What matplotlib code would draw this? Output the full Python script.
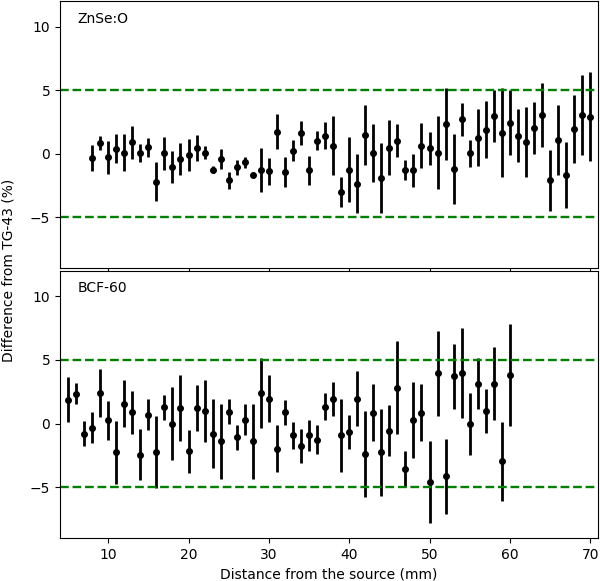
import numpy as np
import matplotlib
matplotlib.use("Agg")
import matplotlib.pyplot as plt

# ZnSe:O  (distance in mm, difference in %, uncertainty in %)
znse_x = list(range(8, 71))
znse_y = [-0.34, 0.83, -0.26, 0.39, 0.10, 0.91, 0.05, 0.52, -2.19, 0.05,
          -1.04, -0.41, -0.08, 0.44, 0.10, -1.25, -0.41, -2.08, -1.07, -0.68,
          -1.64, -1.25, -1.38, 1.74, -1.43, 0.23, 1.61, -1.30, 1.04, 1.43,
          0.65, -3.02, -1.25, -2.34, 1.48, 0.05, -1.90, 0.49, 1.04, -1.30,
          -1.30, 0.63, 0.44, 0.10, 2.32, -1.20, 2.71, 0.05, 1.28, 1.88,
          2.97, 1.67, 2.45, 1.41, 0.91, 2.00, 3.05, -2.08, 1.09, -1.69,
          1.95, 3.05, 2.92]
znse_err = [1.00, 0.55, 1.30, 1.13, 1.45, 1.30, 0.70, 0.75, 1.56, 1.30,
            1.24, 1.24, 1.26, 1.00, 0.53, 0.30, 0.80, 0.65, 0.60, 0.45,
            0.15, 1.73, 1.04, 1.35, 1.21, 0.83, 0.94, 1.15, 0.74, 1.08,
            2.30, 1.20, 2.56, 2.33, 2.37, 2.29, 2.73, 2.19, 1.29, 0.78,
            1.30, 1.76, 1.30, 2.84, 2.84, 2.73, 1.28, 1.07, 2.25, 2.24,
            2.08, 3.49, 2.58, 2.08, 2.77, 2.04, 2.51, 2.41, 2.72, 2.59,
            2.67, 3.15, 3.49]

# BCF-60
bcf_x = list(range(5, 61))
bcf_y = [1.89, 2.34, -0.79, -0.34, 2.41, 0.24, -2.26, 1.57, 0.89, -2.44,
         0.71, -2.23, 1.28, 0.00, 1.23, -2.18, 1.23, 0.97, -0.79, -1.39,
         0.92, -1.08, 0.31, -1.39, 2.41, 1.94, -1.97, 0.89, -0.94, -1.78,
         -0.94, -1.26, 1.31, 1.94, -0.94, -0.68, 1.94, -2.39, 0.84, -2.26,
         -0.55, 2.81, -3.57, 0.31, 0.84, -4.59, 3.94, -4.15, 3.73, 3.94,
         -0.03, 3.12, 0.97, 3.12, -2.97, 3.83]
bcf_err = [1.73, 0.81, 0.98, 1.22, 1.89, 1.55, 2.47, 1.85, 1.68, 2.00,
           1.25, 2.80, 1.00, 2.89, 2.60, 1.68, 1.80, 2.45, 2.69, 2.94,
           0.98, 0.98, 1.20, 2.95, 2.76, 1.84, 1.84, 1.00, 1.08, 1.34,
           1.25, 1.15, 1.06, 1.34, 2.86, 1.35, 2.17, 3.35, 2.23, 3.44,
           2.00, 3.65, 1.44, 2.99, 2.23, 3.22, 3.32, 2.93, 2.56, 3.54,
           2.43, 2.00, 1.75, 2.86, 3.10, 4.03]

fig, (ax1, ax2) = plt.subplots(2, 1, sharex=True, figsize=(6, 5.81), dpi=100)
fig.subplots_adjust(left=0.1, right=0.997, bottom=0.074, top=0.998, hspace=0.01)

for ax, x, y, e, name in [(ax1, znse_x, znse_y, znse_err, "ZnSe:O"),
                          (ax2, bcf_x, bcf_y, bcf_err, "BCF-60")]:
    ax.errorbar(x, y, yerr=e, fmt='o', color='black', ms=4, elinewidth=2, capsize=0)
    ax.axhline(5, color='green', ls='--', lw=1.7)
    ax.axhline(-5, color='green', ls='--', lw=1.7)
    ax.set_ylim(-9, 12)
    ax.set_yticks([-5, 0, 5, 10])
    ax.text(0.032, 0.935, name, transform=ax.transAxes, va='center', ha='left', fontsize=10)

ax2.set_xlim(4, 71)
ax2.set_xlabel("Distance from the source (mm)")
fig.text(0.014, 0.535, "Difference from TG-43 (%)", rotation=90, va='center', ha='center', fontsize=10)

plt.savefig("out.png", dpi=100)
